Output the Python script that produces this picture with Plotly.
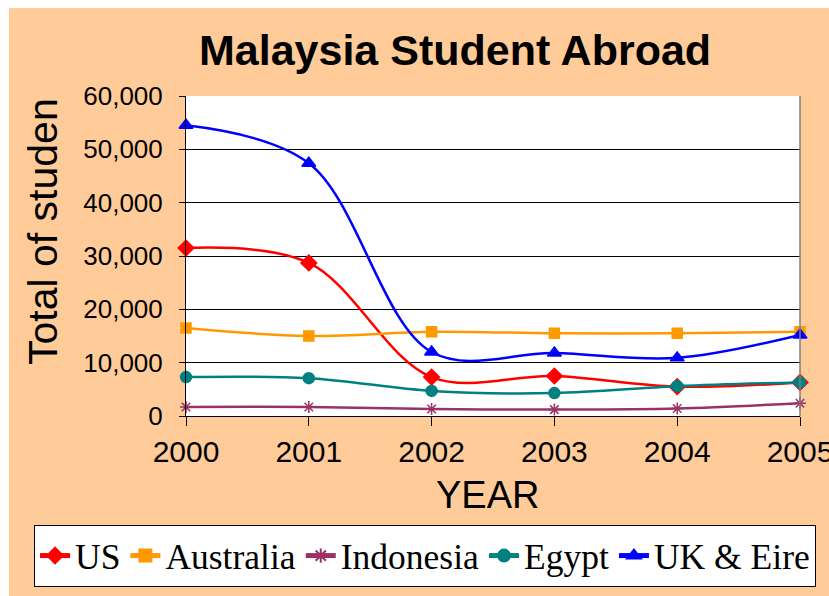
import plotly.graph_objects as go

# Malaysian students studying abroad, by destination
years = [2000, 2001, 2002, 2003, 2004, 2005]
us = [31500, 28700, 7300, 7500, 5500, 6300]
australia = [16500, 15000, 15800, 15500, 15500, 15800]
indonesia = [1700, 1700, 1300, 1200, 1400, 2400]
egypt = [7300, 7100, 4700, 4300, 5600, 6300]
uk_eire = [54500, 47400, 12000, 11800, 10900, 15200]

y_ticks = [0, 10000, 20000, 30000, 40000, 50000, 60000]
y_tick_text = ["0", "10,000", "20,000", "30,000", "40,000", "50,000", "60,000"]

series = [
    ("US", us, "#FF0000", "diamond", 12),
    ("Australia", australia, "#FF9900", "square", 10),
    ("Indonesia", indonesia, "#993366", "asterisk-open", 10),
    ("Egypt", egypt, "#008080", "circle", 11),
    ("UK &amp; Eire", uk_eire, "#0000FF", "triangle-up", 12),
]

W, H = 829, 596
L, R, T, B = 186, 800, 96, 416
PEACH = "#FFCC99"
SANS = "Liberation Sans, Arial, sans-serif"
SERIF = "Liberation Serif, Times New Roman, serif"


def px_x(x):
    return (x - L) / (R - L)


def px_y(y):
    return (B - y) / (B - T)


fig = go.Figure()
for name, vals, color, symbol, size in series:
    fig.add_trace(go.Scatter(
        x=years, y=vals, name=name, mode="lines+markers",
        line=dict(color=color, width=2.5, shape="spline", smoothing=1.0),
        marker=dict(symbol=symbol, size=size, color=color,
                    line=dict(color=color, width=1.5)),
        cliponaxis=False,
    ))

fig.update_layout(
    width=W, height=H,
    margin=dict(l=L, r=W - R, t=T, b=H - B, pad=0, autoexpand=False),
    paper_bgcolor=PEACH,
    plot_bgcolor="white",
    showlegend=True,
    legend=dict(
        orientation="h", xref="paper", yref="paper",
        x=px_x(34), xanchor="left", y=px_y(525), yanchor="top",
        bgcolor="white", bordercolor="black", borderwidth=1,
        font=dict(family=SERIF, size=35.5, color="black"),
        itemsizing="constant", tracegroupgap=0,
    ),
    xaxis=dict(
        range=[2000, 2005], tickvals=years, ticktext=[str(y) for y in years],
        showgrid=False, zeroline=False, showline=True, linecolor="black",
        linewidth=1, ticks="outside", ticklen=9, tickcolor="black",
        ticklabeloverflow="allow",
        tickfont=dict(family=SANS, size=30, color="black"),
    ),
    yaxis=dict(
        range=[0, 60000], tickvals=y_ticks, ticktext=y_tick_text,
        showgrid=True, gridcolor="black", gridwidth=1, zeroline=False,
        showline=True, linecolor="black", linewidth=1,
        ticks="outside", ticklen=6, tickcolor="black",
        ticklabelstandoff=11,
        tickfont=dict(family=SANS, size=26, color="black"),
    ),
    annotations=[
        dict(text="<b>Malaysia Student Abroad</b>", xref="paper", yref="paper",
             x=px_x(455), y=px_y(50), xanchor="center", yanchor="middle",
             showarrow=False, font=dict(family=SANS, size=43, color="black")),
        dict(text="YEAR", xref="paper", yref="paper",
             x=px_x(487), y=px_y(495), xanchor="center", yanchor="middle",
             showarrow=False, font=dict(family=SANS, size=38, color="black")),
        dict(text="Total of studen", xref="paper", yref="paper",
             x=px_x(43), y=px_y(232), xanchor="center", yanchor="middle",
             textangle=-90, showarrow=False,
             font=dict(family=SANS, size=41, color="black")),
    ],
    shapes=[
        # white margins at the left and top edges of the page
        dict(type="rect", xref="paper", yref="paper", layer="below",
             x0=px_x(-5), x1=px_x(9), y0=px_y(H + 5), y1=px_y(-5),
             fillcolor="white", line=dict(width=0)),
        dict(type="rect", xref="paper", yref="paper", layer="below",
             x0=px_x(-5), x1=px_x(W + 5), y0=px_y(8), y1=px_y(-5),
             fillcolor="white", line=dict(width=0)),
        # grey right edge of the plot area
        dict(type="line", xref="paper", yref="paper", x0=1, x1=1, y0=0, y1=1,
             line=dict(color="#808080", width=1.5)),
    ],
)

fig.write_html("out.html")
